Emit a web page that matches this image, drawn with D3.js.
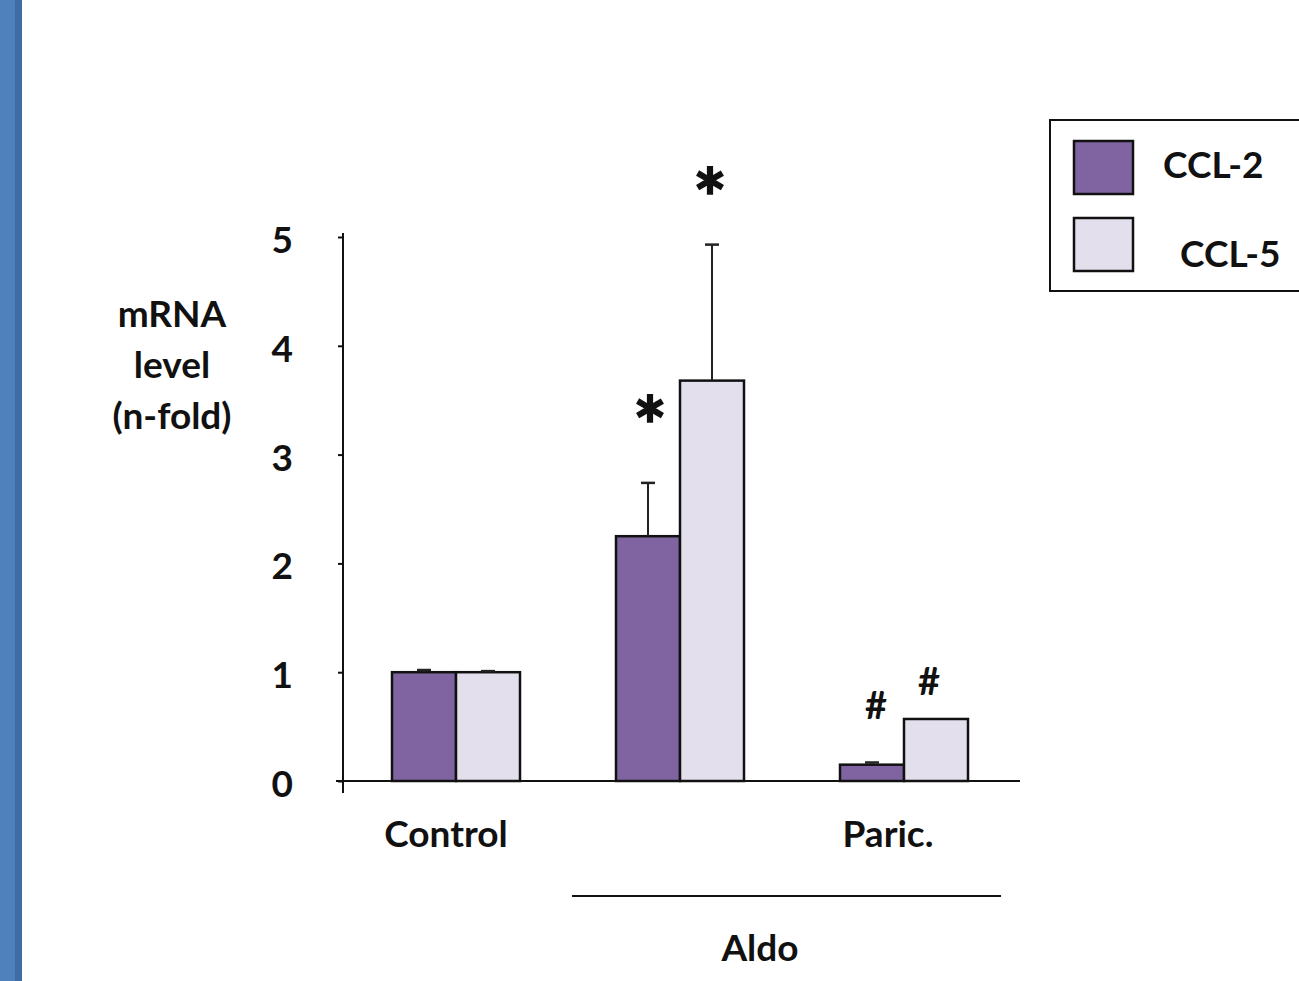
<!DOCTYPE html>
<html>
<head>
<meta charset="utf-8">
<script src="https://cdn.jsdelivr.net/npm/d3@7"></script>
<style>
  html, body { margin: 0; padding: 0; background: #fff; }
  svg { display: block; }
  text { font-family: Lato, "Open Sans", sans-serif; fill: #111; }
</style>
</head>
<body>
<svg id="chart"></svg>
<script>
// chart values
var groups = ["Control", "Aldo", "Paric."];
var seriesNames = ["CCL-2", "CCL-5"];
var ccl2 = [1.0, 2.25, 0.15];
var ccl5 = [1.0, 3.68, 0.57];
var ccl2Err = [0.02, 0.49, 0.02];
var ccl5Err = [0.01, 1.25, 0.0];
var ccl2Marks = ["", "*", "#"];
var ccl5Marks = ["", "*", "#"];
var yTicks = [0, 1, 2, 3, 4, 5];
var colors = ["#8064a2", "#e4dfec"];

var W = 1299, H = 981;
var fs = 37;
var svg = d3.select("#chart").attr("width", W).attr("height", H);

// blue strip on the left edge
svg.append("rect").attr("x", 0).attr("y", 0).attr("width", 15).attr("height", H).attr("fill", "#4f81bd");
svg.append("rect").attr("x", 15).attr("y", 0).attr("width", 7).attr("height", H).attr("fill", "#3e6ca4");

var x0 = d3.scaleBand().domain(groups).range([344, 1016]).paddingInner(96 / 224).paddingOuter(48 / 224);
var x1 = d3.scaleBand().domain(seriesNames).range([0, x0.bandwidth()]);
var y = d3.scaleLinear().domain([0, 5]).range([781, 237]);

var rows = groups.map(function (g, i) {
    return [
        { g: g, s: seriesNames[0], v: ccl2[i], e: ccl2Err[i], m: ccl2Marks[i], c: colors[0] },
        { g: g, s: seriesNames[1], v: ccl5[i], e: ccl5Err[i], m: ccl5Marks[i], c: colors[1] }
    ];
});
var flat = [].concat.apply([], rows);
function cx(d) { return x0(d.g) + x1(d.s) + x1.bandwidth() / 2; }

// y axis
var yAxis = d3.axisLeft(y).tickValues(yTicks).tickSize(5).tickPadding(45).tickFormat(d3.format("d"));
var gy = svg.append("g").attr("transform", "translate(343,0)").call(yAxis);
gy.select(".domain").attr("d", "M0," + (y(5) - 4) + "V" + (y(0) + 12)).attr("stroke", "#111").attr("stroke-width", 2);
gy.selectAll(".tick line").attr("stroke", "#111").attr("stroke-width", 2);
gy.selectAll(".tick text").attr("font-size", fs).attr("font-family", "Lato").attr("font-weight", "bold").attr("fill", "#111").attr("dy", "0.42em");

// bars
svg.selectAll("rect.bar")
    .data(flat)
    .enter()
    .append("rect")
    .attr("class", "bar")
    .attr("x", function (d) { return x0(d.g) + x1(d.s); })
    .attr("y", function (d) { return y(d.v); })
    .attr("width", x1.bandwidth())
    .attr("height", function (d) { return y(0) - y(d.v); })
    .attr("fill", function (d) { return d.c; })
    .attr("stroke", "#111")
    .attr("stroke-width", 2.5);

// error bars
var eb = svg.selectAll("g.err")
    .data(flat.filter(function (d) { return d.e > 0; }))
    .enter()
    .append("g")
    .attr("class", "err");
eb.append("line")
    .attr("x1", cx)
    .attr("x2", cx)
    .attr("y1", function (d) { return y(d.v); })
    .attr("y2", function (d) { return y(d.v + d.e); })
    .attr("stroke", "#222").attr("stroke-width", 2);
eb.append("line")
    .attr("x1", function (d) { return cx(d) - 7; })
    .attr("x2", function (d) { return cx(d) + 7; })
    .attr("y1", function (d) { return y(d.v + d.e); })
    .attr("y2", function (d) { return y(d.v + d.e); })
    .attr("stroke", "#222").attr("stroke-width", 2.5);

// x axis line
svg.append("line").attr("x1", 336).attr("x2", 1020).attr("y1", y(0)).attr("y2", y(0))
    .attr("stroke", "#111").attr("stroke-width", 2);

// significance marks
svg.selectAll("text.mark")
    .data(flat.filter(function (d) { return d.m; }))
    .enter()
    .append("text")
    .attr("class", "mark")
    .attr("text-anchor", "middle")
    .attr("x", function (d) {
        if (d.m == "#") return cx(d) + (d.s == "CCL-2" ? 4 : -7);
        return cx(d) - (d.s == "CCL-2" ? -2 : 2);
    })
    .attr("y", function (d) {
        if (d.m == "*") return y(d.v + d.e) - (d.s == "CCL-2" ? 27 : 17);
        return y(d.v + d.e) - (d.s == "CCL-2" ? 44 : 24);
    })
    .attr("font-size", function (d) { return d.m == "*" ? 80 : 38; })
    .attr("font-weight", "bold")
    .attr("font-family", "'Liberation Serif'")
    .attr("stroke", function (d) { return d.m == "*" ? "#111" : "none"; })
    .attr("stroke-width", 1.5)
    .text(function (d) { return d.m; });

// category labels
svg.append("text").attr("x", 446).attr("y", 847)
    .attr("text-anchor", "middle").attr("font-size", fs).attr("font-weight", "bold").text("Control");
svg.append("text").attr("x", 888).attr("y", 847)
    .attr("text-anchor", "middle").attr("font-size", fs).attr("font-weight", "bold").text("Paric.");
svg.append("line").attr("x1", 572).attr("x2", 1001).attr("y1", 896).attr("y2", 896)
    .attr("stroke", "#111").attr("stroke-width", 2);
svg.append("text").attr("x", 760).attr("y", 961)
    .attr("text-anchor", "middle").attr("font-size", fs).attr("font-weight", "bold").text("Aldo");

// y axis title
var titleLines = ["mRNA", "level", "(n-fold)"];
svg.selectAll("text.ytitle")
    .data(titleLines)
    .enter()
    .append("text")
    .attr("class", "ytitle")
    .attr("x", 172)
    .attr("y", function (d, i) { return 327 + i * 51; })
    .attr("text-anchor", "middle")
    .attr("font-size", fs)
    .attr("font-weight", "bold")
    .text(function (d) { return d; });

// legend
var lg = svg.append("g");
lg.append("rect").attr("x", 1050).attr("y", 120).attr("width", 270).attr("height", 171)
    .attr("fill", "#fff").attr("stroke", "#111").attr("stroke-width", 2);
var li = lg.selectAll("g.li").data(seriesNames).enter().append("g").attr("class", "li");
li.append("rect")
    .attr("x", 1074)
    .attr("y", function (d, i) { return 141 + i * 77; })
    .attr("width", 59).attr("height", 53)
    .attr("fill", function (d, i) { return colors[i]; })
    .attr("stroke", "#111").attr("stroke-width", 2.5);
li.append("text")
    .attr("x", function (d, i) { return i == 0 ? 1163 : 1180; })
    .attr("y", function (d, i) { return 178 + i * 89; })
    .attr("font-size", fs)
    .attr("font-weight", "bold")
    .text(function (d) { return d; });
</script>
</body>
</html>
